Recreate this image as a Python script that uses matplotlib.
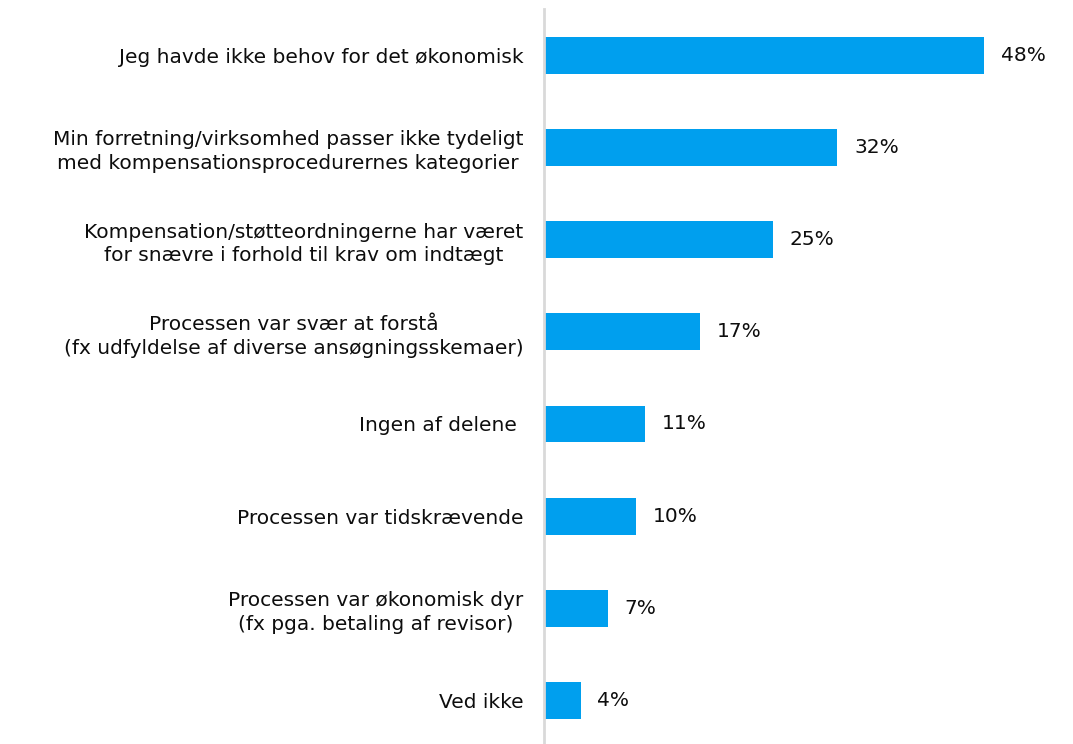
import matplotlib
matplotlib.use("Agg")
import matplotlib.pyplot as plt

categories = [
    "Jeg havde ikke behov for det økonomisk",
    "Min forretning/virksomhed passer ikke tydeligt\nmed kompensationsprocedurernes kategorier",
    "Kompensation/støtteordningerne har været\nfor snævre i forhold til krav om indtægt",
    "Processen var svær at forstå\n(fx udfyldelse af diverse ansøgningsskemaer)",
    "Ingen af delene ",
    "Processen var tidskrævende",
    "Processen var økonomisk dyr\n(fx pga. betaling af revisor)",
    "Ved ikke",
]
values = [48, 32, 25, 17, 11, 10, 7, 4]

bar_color = "#009FEE"
axis_color = "#D9D9D9"
text_color = "#0d0d0d"

plt.rcParams["font.family"] = ["DejaVu Sans"]

fig = plt.figure(figsize=(10.73, 7.44), dpi=100)
ax = fig.add_axes([544 / 1073, 0.0, 1 - 544 / 1073, (744 - 9) / 744])

y = list(range(len(categories)))
ax.barh(y, values, height=0.4, color=bar_color, zorder=2)

ax.set_ylim(7.47, -0.5)
ax.set_xlim(0, 57.7)

for yi, v in zip(y, values):
    ax.annotate(f"{v}%", xy=(v, yi), xytext=(12, 0), textcoords="offset points",
                ha="left", va="center", fontsize=14.5, color=text_color)

ax.set_yticks(y)
ax.set_yticklabels(categories, fontsize=14.5, color=text_color, multialignment="center",
                   linespacing=1.32)
ax.tick_params(axis="y", length=0, pad=15)
ax.set_xticks([])

for side in ["top", "right", "bottom"]:
    ax.spines[side].set_visible(False)
ax.spines["left"].set_color(axis_color)
ax.spines["left"].set_linewidth(2)

fig.savefig("out.png", dpi=100)
